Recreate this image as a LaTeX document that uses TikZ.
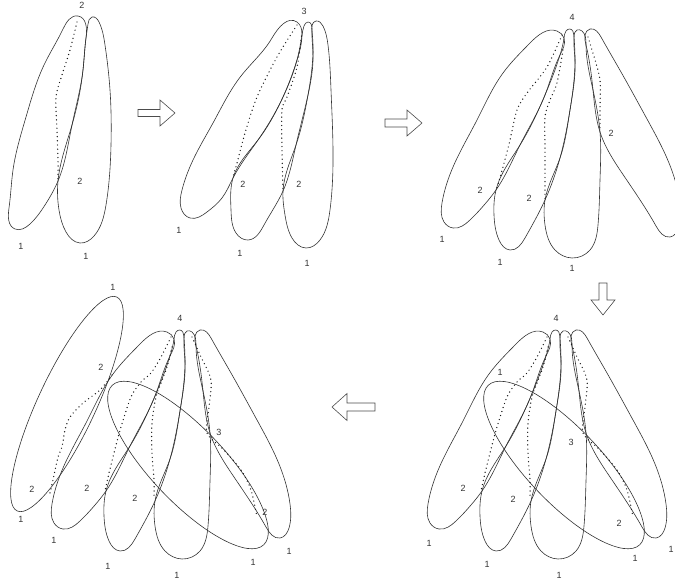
\documentclass[tikz,border=0pt]{standalone}
\usepackage{fontspec}
\setsansfont{Liberation Sans}
\usetikzlibrary{calc, hobby}

\tikzset{
  petal/.style={draw=black!80, line width=0.6pt, use Hobby shortcut, closed=true},
  oval/.style={draw=black!80, line width=0.6pt},
  walk/.style={draw=black!90, line width=1.4pt, dash pattern=on 0pt off 4.2pt, line cap=round},
  deg/.style={font=\sffamily\fontsize{9}{10}\selectfont, text=black!80, inner sep=0pt},
  blockarrow/.style={draw=black!70, fill=white, line width=0.6pt, line join=miter},
}

% the four petals of the third picture
\newcommand{\fanfour}{%
  \draw[petal] (557,31) .. (530,43) .. (503,73) .. (477,120) .. (453,167) .. (442,203) .. (444,222) .. (453,228) .. (470,220) .. (485,204) .. (496,190) .. (520,145) .. (545,95) .. (560,55) .. (564,38);
  \draw[petal] (564,38) .. (566,31) .. (570,29) .. (574,36) .. (575,60) .. (570,110) .. (560,158) .. (545,200) .. (525,238) .. (510,250) .. (499,240) .. (494,215) .. (496,190) .. (520,145) .. (545,95) .. (560,55);
  \draw[petal] (574,36) .. (577,30) .. (582,31) .. (586,45) .. (593,90) .. (600,132) .. (600,180) .. (598,225) .. (590,250) .. (572,258) .. (555,250) .. (545,225) .. (545,200) .. (560,158) .. (570,110) .. (575,60);
  \draw[petal] (586,45) .. (585,35) .. (590,29) .. (601,37) .. (621,72) .. (647,119) .. (669,163) .. (680,203) .. (679,227) .. (670,237) .. (656,226) .. (624,176) .. (600,132) .. (593,90);
}

% the crossing ellipse and the walks of the fourth picture
\newcommand{\fanextra}{%
  \draw[oval, rotate around={-46.5:(564,465)}] (564,465) ellipse [x radius=110pt, y radius=37pt];
  \draw[walk] plot[smooth] coordinates {(547,337) (537,357) (527,373) (517,382) (507,397) (497,427) (490,453) (485,473) (481,491)};
  \draw[walk] plot[smooth] coordinates {(548,347) (543,367) (537,383) (532,397) (528,423) (528,453) (530,480) (530,497)};
  \draw[walk] plot[smooth] coordinates {(568,337) (577,357) (587,380) (585,407) (583,433) (600,450) (617,470) (627,490) (633,517)};
}

\begin{document}
\begin{tikzpicture}[x=1pt, y=-1pt]
\useasboundingbox (0,0) rectangle (675,582);

% first picture: two petals
\draw[petal] (78,16) .. (63,29) .. (44,65) .. (26,117) .. (13,170) .. (9,208) .. (15,229) .. (30,224) .. (45,205) .. (58,181) .. (72,125) .. (83,70) .. (86,38);
\draw[petal] (86,38) .. (88,24) .. (92,17) .. (99,22) .. (105,45) .. (110,90) .. (111,145) .. (106,205) .. (94,236) .. (80,243) .. (66,232) .. (59,210) .. (58,181) .. (72,125) .. (83,70);
\draw[walk] plot[smooth] coordinates {(77,22) (70,50) (62,75) (56,97) (57,130) (58,160) (58,180)};
\foreach \x/\y/\t [count=\i] in {82/5/2, 80/181/2, 21/246/1, 86/256/1}
  \node[deg] (a\i) at (\x,\y) {\t};

% second picture: three petals
\draw[petal] (297,22) .. (272,38) .. (241,76) .. (213,123) .. (193,160) .. (182,190) .. (181,208) .. (190,218) .. (207,212) .. (222,198) .. (233,178) .. (258,140) .. (283,97) .. (297,60) .. (302,35);
\draw[petal] (302,35) .. (304,26) .. (308,22) .. (312,30) .. (313,52) .. (308,95) .. (296,145) .. (283,191) .. (264,225) .. (248,240) .. (236,233) .. (231,210) .. (233,178) .. (258,140) .. (283,97) .. (297,60);
\draw[petal] (316,21) .. (323,26) .. (328,45) .. (331,90) .. (333,150) .. (330,210) .. (320,240) .. (306,248) .. (292,238) .. (285,215) .. (283,191) .. (296,145) .. (308,95) .. (313,52) .. (312,32);
\draw[walk] plot[smooth] coordinates {(297,25) (277,57) (257,97) (245,133) (237,163) (233,177)};
\draw[walk] plot[smooth] coordinates {(302,32) (297,67) (287,97) (282,110) (282,150) (283,190)};
\foreach \x/\y/\t [count=\i] in {304/11/3, 243/184/2, 299/184/2, 179/230/1, 240/253/1, 307/263/1}
  \node[deg] (b\i) at (\x,\y) {\t};

% third picture: four petals
\fanfour
\draw[walk] plot[smooth] coordinates {(562,35) (547,67) (527,93) (517,110) (510,140) (503,167) (497,188)};
\draw[walk] plot[smooth] coordinates {(563,50) (557,83) (550,100) (545,117) (545,150) (545,200)};
\draw[walk] plot[smooth] coordinates {(588,37) (595,60) (600,80) (600,110) (600,130)};
\foreach \x/\y/\t [count=\i] in {572/17/4, 480/190/2, 529/198/2, 611/133/2, 442/239/1, 500/262/1, 572/268/1}
  \node[deg] (c\i) at (\x,\y) {\t};

% fourth picture: crossing ellipse added
\begin{scope}[shift={(-14,301)}]
  \fanfour
\end{scope}
\fanextra
\foreach \x/\y/\t [count=\i] in {556/318/4, 500/372/1, 571/442/3, 463/488/2, 513/499/2, 619/523/2, 429/543/1, 487/564/1, 559/575/1, 635/558/1, 671/549/1}
  \node[deg] (d\i) at (\x,\y) {\t};

% fifth picture: one more petal on the left
\begin{scope}[shift={(-376,0)}]
  \begin{scope}[shift={(-14,301)}]
    \fanfour
  \end{scope}
  \fanextra
\end{scope}
\draw[oval, rotate around={65:(67,404)}] (67,404) ellipse [x radius=118pt, y radius=29pt];
\draw[walk] plot[smooth] coordinates {(112,375) (100,390) (83,403) (70,417) (65,430) (62,447) (58,457) (53,480) (50,493)};
\foreach \x/\y/\t [count=\i] in {180/318/4, 113/287/1, 101/367/2, 219/432/3, 32/489/2, 87/488/2, 135/498/2, 265/512/2, 21/519/1, 54/540/1, 108/566/1, 177/575/1, 253/562/1, 289/551/1}
  \node[deg] (e\i) at (\x,\y) {\t};

% block arrows between the pictures
\draw[blockarrow] (138,109.5) -- (160,109.5) -- (160,100) -- (175,113) -- (160,126) -- (160,116.5) -- (138,116.5) -- cycle;
\draw[blockarrow] (385,119) -- (407,119) -- (407,110) -- (422,123) -- (407,136) -- (407,127) -- (385,127) -- cycle;
\draw[blockarrow] (599,283) -- (599,300) -- (591,300) -- (603,315) -- (615,300) -- (607,300) -- (607,283) -- cycle;
\draw[blockarrow] (375,403) -- (347,403) -- (347,393.5) -- (332,407) -- (347,420.5) -- (347,411) -- (375,411) -- cycle;

\end{tikzpicture}
\end{document}
